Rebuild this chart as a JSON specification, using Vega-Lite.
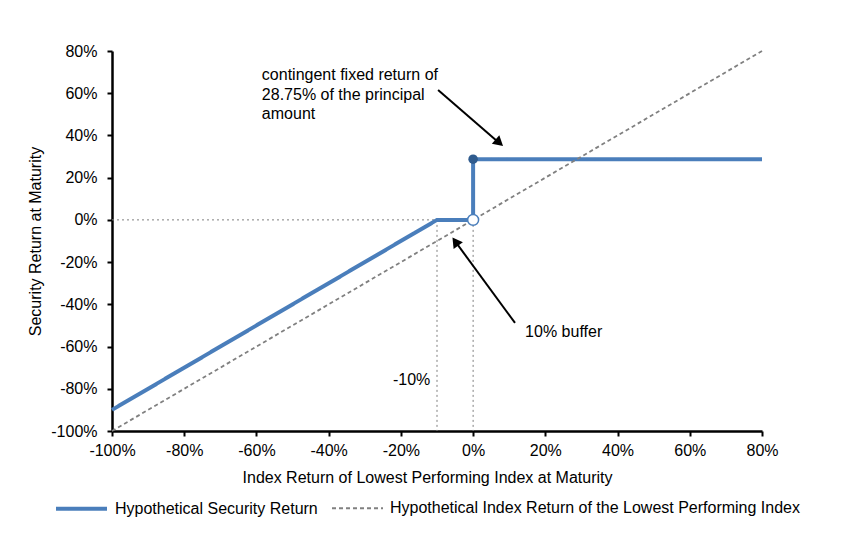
{
  "$schema": "https://vega.github.io/schema/vega-lite/v6.json",
  "width": 650,
  "height": 380,
  "autosize": "none",
  "padding": {"left": 112, "top": 51, "right": 99, "bottom": 106},
  "config": {
    "font": "Liberation Sans",
    "view": {"stroke": null},
    "axis": {"grid": false, "domainColor": "#000000", "domainWidth": 2.5, "tickColor": "#000000", "tickWidth": 2, "tickSize": 5, "labelFontSize": 16, "labelColor": "#000000", "titleFontSize": 16, "titleFontWeight": "normal", "titleColor": "#000000", "labelFlush": false, "labelBound": false, "labelOverlap": false}
  },
  "datasets": {
    "lines": [
      {"series": "Hypothetical Security Return", "i": 1, "x": -100, "y": -90},
      {"series": "Hypothetical Security Return", "i": 2, "x": -10, "y": 0},
      {"series": "Hypothetical Security Return", "i": 3, "x": 0, "y": 0},
      {"series": "Hypothetical Security Return", "i": 4, "x": 0, "y": 28.75},
      {"series": "Hypothetical Security Return", "i": 5, "x": 80, "y": 28.75},
      {"series": "Hypothetical Index Return of the Lowest Performing Index", "i": 1, "x": -100, "y": -100},
      {"series": "Hypothetical Index Return of the Lowest Performing Index", "i": 2, "x": 80, "y": 80}
    ],
    "guides": [
      {"x": -100, "y": 0, "x2": -10, "y2": 0},
      {"x": -10, "y": 0, "x2": -10, "y2": -100},
      {"x": 0, "y": 0, "x2": 0, "y2": -100}
    ],
    "arrows": [
      {"x": -9.7, "y": 61.5, "x2": 7.0, "y2": 36.8},
      {"x": 11.6, "y": -48.8, "x2": -4.7, "y2": -10.8}
    ],
    "labels": [
      {"x": -58.5, "y": 68.6, "t": "contingent fixed return of"},
      {"x": -58.5, "y": 59.2, "t": "28.75% of the principal"},
      {"x": -58.5, "y": 50.2, "t": "amount"},
      {"x": 14.4, "y": -53.1, "t": "10% buffer"},
      {"x": -22.2, "y": -75.8, "t": "-10%"}
    ]
  },
  "layer": [
    {
      "data": {"name": "guides"},
      "mark": {"type": "rule", "color": "#7f7f7f", "strokeDash": [2, 3], "strokeWidth": 1},
      "encoding": {
        "x": {"field": "x", "type": "quantitative"},
        "y": {"field": "y", "type": "quantitative"},
        "x2": {"field": "x2"},
        "y2": {"field": "y2"}
      }
    },
    {
      "data": {"name": "lines"},
      "mark": {"type": "line"},
      "encoding": {
        "x": {"field": "x", "type": "quantitative", "scale": {"domain": [-100, 80], "nice": false, "zero": false}, "axis": {"values": [-100, -80, -60, -40, -20, 0, 20, 40, 60, 80], "labelExpr": "datum.value + '%'", "title": "Index Return of Lowest Performing Index at Maturity", "labelPadding": 6, "titleX": 315, "titleY": 46, "titleBaseline": "middle"}},
        "y": {"field": "y", "type": "quantitative", "scale": {"domain": [-100, 80], "nice": false, "zero": false}, "axis": {"values": [-100, -80, -60, -40, -20, 0, 20, 40, 60, 80], "labelExpr": "datum.value + '%'", "title": "Security Return at Maturity", "labelPadding": 10, "titleX": -77, "titleY": 190, "titleBaseline": "middle", "titleAlign": "center"}},
        "order": {"field": "i", "type": "quantitative"},
        "color": {"field": "series", "type": "nominal", "scale": {"domain": ["Hypothetical Security Return", "Hypothetical Index Return of the Lowest Performing Index"], "range": ["#4a7ebb", "#808080"]}, "legend": {"title": null, "orient": "none", "direction": "horizontal", "legendX": -58, "legendY": 430, "symbolType": "stroke", "symbolSize": 2600, "labelFontSize": 16, "labelColor": "#000000", "labelLimit": 0, "columnPadding": 10, "labelOffset": 6}},
        "strokeDash": {"field": "series", "type": "nominal", "scale": {"domain": ["Hypothetical Security Return", "Hypothetical Index Return of the Lowest Performing Index"], "range": [[1, 0], [4, 3]]}, "legend": {"title": null, "orient": "none", "direction": "horizontal", "legendX": -58, "legendY": 430, "symbolType": "stroke", "symbolSize": 2600, "labelFontSize": 16, "labelColor": "#000000", "labelLimit": 0, "columnPadding": 10, "labelOffset": 6}},
        "strokeWidth": {"field": "series", "type": "nominal", "scale": {"domain": ["Hypothetical Security Return", "Hypothetical Index Return of the Lowest Performing Index"], "range": [4, 1.8]}, "legend": {"title": null, "orient": "none", "direction": "horizontal", "legendX": -58, "legendY": 430, "symbolType": "stroke", "symbolSize": 2600, "labelFontSize": 16, "labelColor": "#000000", "labelLimit": 0, "columnPadding": 10, "labelOffset": 6}}
      }
    },
    {
      "data": {"values": [{"x": 0, "y": 28.75}]},
      "mark": {"type": "point", "filled": true, "color": "#2f5b8e", "size": 90, "opacity": 1},
      "encoding": {"x": {"field": "x", "type": "quantitative"}, "y": {"field": "y", "type": "quantitative"}}
    },
    {
      "data": {"values": [{"x": 0, "y": 0}]},
      "mark": {"type": "point", "filled": true, "fill": "#ffffff", "stroke": "#4a7ebb", "strokeWidth": 1.5, "size": 120, "opacity": 1},
      "encoding": {"x": {"field": "x", "type": "quantitative"}, "y": {"field": "y", "type": "quantitative"}}
    },
    {
      "data": {"name": "arrows"},
      "mark": {"type": "rule", "color": "#000000", "strokeWidth": 2},
      "encoding": {
        "x": {"field": "x", "type": "quantitative"},
        "y": {"field": "y", "type": "quantitative"},
        "x2": {"field": "x2"},
        "y2": {"field": "y2"}
      }
    },
    {
      "data": {"values": [{"x": 7.25, "y": 36.56}]},
      "mark": {"type": "point", "shape": "triangle-up", "filled": true, "color": "#000000", "size": 130, "angle": 131, "opacity": 1},
      "encoding": {"x": {"field": "x", "type": "quantitative"}, "y": {"field": "y", "type": "quantitative"}}
    },
    {
      "data": {"values": [{"x": -4.92, "y": -10.28}]},
      "mark": {"type": "point", "shape": "triangle-up", "filled": true, "color": "#000000", "size": 130, "angle": 324, "opacity": 1},
      "encoding": {"x": {"field": "x", "type": "quantitative"}, "y": {"field": "y", "type": "quantitative"}}
    },
    {
      "data": {"name": "labels"},
      "mark": {"type": "text", "align": "left", "baseline": "middle", "fontSize": 16, "color": "#000000"},
      "encoding": {"x": {"field": "x", "type": "quantitative"}, "y": {"field": "y", "type": "quantitative"}, "text": {"field": "t"}}
    }
  ]
}
